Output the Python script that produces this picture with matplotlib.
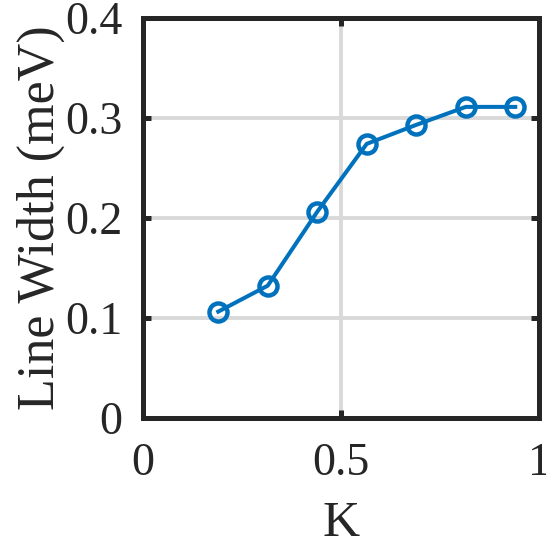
import numpy as np
import matplotlib
matplotlib.use("Agg")
import matplotlib.pyplot as plt

plt.rcParams['font.family'] = ['Liberation Serif', 'DejaVu Serif']

K = [0.19, 0.315, 0.44, 0.565, 0.69, 0.815, 0.94]
width = [0.106, 0.132, 0.206, 0.274, 0.293, 0.311, 0.311]

fig = plt.figure(figsize=(5.46, 5.46), dpi=100)
ax = fig.add_axes([143/546, 1 - 417.5/546, 396/546, 399.5/546])

ax.plot(K, width, '-o', color='#0072BD', lw=2.9, ms=13, mew=3.2,
        mfc='none', zorder=3)

ax.set_xlim(0, 1)
ax.set_ylim(0, 0.4)
ax.set_xticks([0, 0.5, 1])
ax.set_xticklabels(['0', '0.5', '1'])
ax.set_yticks([0, 0.1, 0.2, 0.3, 0.4])
ax.set_yticklabels(['0', '0.1', '0.2', '0.3', '0.4'])
ax.grid(True, color='#d9d9d9', lw=2.8, zorder=0)
ax.set_axisbelow(True)

for s in ax.spines.values():
    s.set_linewidth(3.6)
    s.set_color('#262626')
ax.tick_params(direction='in', length=6, width=3.6, color='#262626',
               labelsize=33, labelcolor='#262626', top=True, right=True)
ax.tick_params(axis='x', pad=18)
ax.tick_params(axis='y', pad=15)

ax.set_xlabel('K', fontsize=37, color='#262626', labelpad=11)
ax.set_ylabel('Line Width (meV)', fontsize=37.5, color='#262626', labelpad=0)

fig.savefig('out.png', dpi=100)
